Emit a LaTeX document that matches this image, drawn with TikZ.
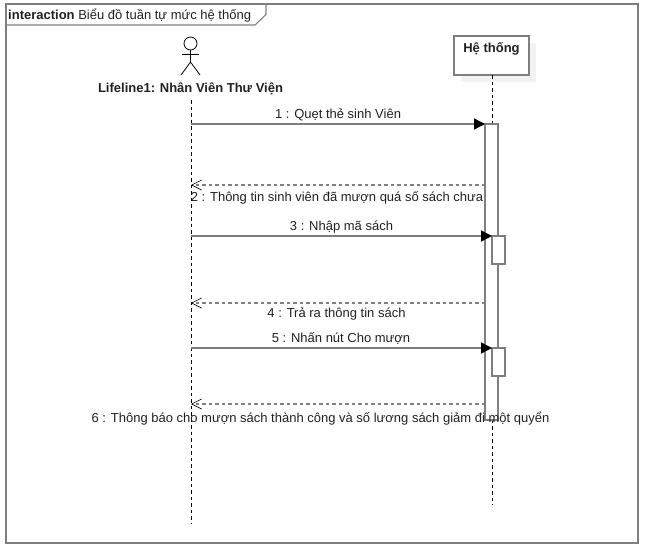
\documentclass[tikz,border=0pt]{standalone}
\usepackage{fontspec}
\setmainfont{Liberation Sans}
\usetikzlibrary{arrows.meta}
\definecolor{umlgray}{HTML}{7F7F7F}
\definecolor{txt}{HTML}{222222}
\tikzset{
  x=1pt,y=-1pt,
  frameline/.style={draw=umlgray,line width=1.4pt},
  thinline/.style={draw=black,line width=0.8pt},
  lifeline/.style={draw=black,line width=0.9pt,dash pattern=on 3.5pt off 3pt},
  activation/.style={draw=umlgray,line width=1.4pt,fill=white,rectangle,inner sep=0pt,outer sep=0pt,minimum width=13pt},
  call/.style={draw=umlgray,line width=1.4pt,-{Triangle[length=11pt,width=11pt,color=black]}},
  reply/.style={draw=umlgray,line width=1.2pt,dash pattern=on 3.5pt off 3pt,-{Straight Barb[length=10pt,width=10pt,color=black,line width=0.6pt]}},
  msg/.style={font=\fontsize{13}{15}\selectfont,text=txt,inner sep=0pt},
}
\begin{document}
\begin{tikzpicture}
\useasboundingbox (0,0) rectangle (647,550);
\fill[white] (0,0) rectangle (647,550);
% frame
\node[frameline,rectangle,inner sep=0pt,minimum width=632pt,minimum height=539pt] (frame) at (322,273.5) {};
\draw[frameline,line join=round,line width=1.1pt] (6,25) -- (255,25) -- (266,14.5) -- (266,4);
\node[msg,anchor=base west] (title) at (8,19) {\textbf{interaction} Biểu đồ tuần tự mức hệ thống};
% actor
\draw[thinline] (190.5,43.5) circle (6.5);
\coordinate (neck) at (190.5,50);
\coordinate (hip) at (190.5,62);
\draw[thinline] (neck) -- (hip);
\draw[thinline] (182,54) -- (199,54);
\draw[thinline] (181,75) -- (hip) -- (200,75);
\node[msg,font=\fontsize{13}{15}\selectfont\bfseries,anchor=base] (actor) at (190.5,92) {Lifeline1: Nhân Viên Thư Viện};
% system box
\fill[black!5] (461,43) rectangle (536,82);
\node[draw=umlgray,line width=1.4pt,fill=white,rectangle,inner sep=0pt,outer sep=0pt,minimum width=75pt,minimum height=39pt] (sys) at (491.5,55.5) {};
\node[msg,font=\fontsize{13}{15}\selectfont\bfseries,anchor=base] (systxt) at (491.5,52) {Hệ thống};
% lifelines
\coordinate (lA) at (191,100);
\coordinate (lAend) at (191,523);
\coordinate (lBend) at (492,505);
\draw[lifeline] (lA) -- (lAend);
\draw[lifeline] (sys.south) ++(0.5,0) -- (lBend);
% activations
\node[activation,minimum height=296pt] (main) at (491.5,272) {};
\node[activation,minimum height=28pt] (a1) at (498.5,250) {};
\node[activation,minimum height=28pt] (a2) at (498.5,362) {};
% messages
\coordinate (s1) at (191,124);
\coordinate (r2) at (191,185);
\coordinate (s3) at (191,236);
\coordinate (r4) at (191,303);
\coordinate (s5) at (191,348);
\coordinate (r6) at (191,404);
\draw[call] (s1) -- (s1 -| main.west);
\draw[reply] (r2 -| main.west) -- (r2);
\draw[call] (s3) -- (s3 -| a1.west);
\draw[reply] (r4 -| main.west) -- (r4);
\draw[call] (s5) -- (s5 -| a2.west);
\draw[reply] (r6 -| main.west) -- (r6);
\node[msg,anchor=base] (m1) at (338,118) {1 : Quẹt thẻ sinh Viên};
\node[msg,anchor=base] (m2) at (337,201) {2 : Thông tin sinh viên đã mượn quá số sách chưa};
\node[msg,anchor=base] (m3) at (341.5,230) {3 : Nhập mã sách};
\node[msg,anchor=base] (m4) at (336.5,317) {4 : Trả ra thông tin sách};
\node[msg,anchor=base] (m5) at (341,342) {5 : Nhấn nút Cho mượn};
\node[msg,anchor=base] (m6) at (320.5,422) {6 : Thông báo cho mượn sách thành công và số lương sách giảm đi một quyển};
\end{tikzpicture}
\end{document}
